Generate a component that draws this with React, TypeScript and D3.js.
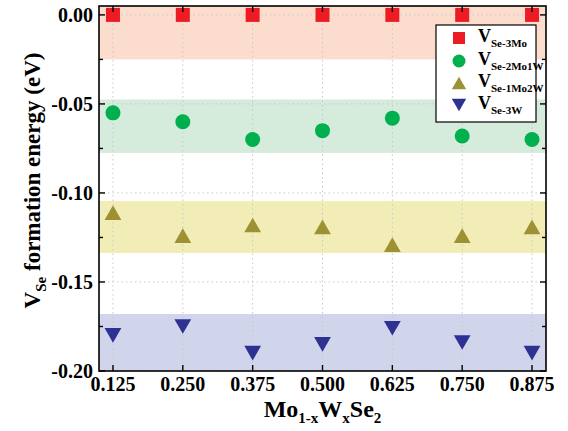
import React from "react";
import * as d3 from "d3";

const xValues = [0.125, 0.25, 0.375, 0.5, 0.625, 0.75, 0.875];
const xTickLabels = ["0.125", "0.250", "0.375", "0.500", "0.625", "0.750", "0.875"];
const yTicks = [0, -0.05, -0.1, -0.15, -0.2];
const yTickLabels = ["0.00", "-0.05", "-0.10", "-0.15", "-0.20"];
const yMinorTicks = [-0.025, -0.075, -0.125, -0.175];

const seriesNames = ["Se-3Mo", "Se-2Mo1W", "Se-1Mo2W", "Se-3W"];
const v3Mo = [0, 0, 0, 0, 0, 0, 0];
const v2Mo1W = [-0.055, -0.06, -0.07, -0.065, -0.058, -0.068, -0.07];
const v1Mo2W = [-0.111, -0.124, -0.118, -0.119, -0.129, -0.124, -0.119];
const v3W = [-0.18, -0.175, -0.19, -0.185, -0.176, -0.184, -0.19];

const bandTops = [0.005, -0.0475, -0.1045, -0.168];
const bandBottoms = [-0.025, -0.0775, -0.1337, -0.2];

const markerColors = ["#ED1C24", "#00B04F", "#9E9134", "#2E3192"];
const bandColors = ["#FBDCCD", "#D5EBDC", "#F2EDB7", "#D0D5EB"];

const W = 568;
const H = 431;
const margin = { left: 99, right: 22, top: 6, bottom: 60 };
const FONT = '"Liberation Serif", "Times New Roman", "Nimbus Roman", "DejaVu Serif", serif';

function Marker({ kind, cx, cy, size, color }: { kind: number; cx: number; cy: number; size: number; color: string }) {
  if (kind === 0) {
    return <rect x={cx - size / 2} y={cy - size / 2} width={size} height={size} fill={color} />;
  }
  if (kind === 1) {
    return <circle cx={cx} cy={cy} r={size / 2 + 0.5} fill={color} />;
  }
  const w = size * 1.2;
  const h = size * 1.05;
  if (kind === 2) {
    const p = `M${cx - w / 2},${cy + h / 2}L${cx + w / 2},${cy + h / 2}L${cx},${cy - h / 2}Z`;
    return <path d={p} fill={color} />;
  }
  const p = `M${cx - w / 2},${cy - h / 2}L${cx + w / 2},${cy - h / 2}L${cx},${cy + h / 2}Z`;
  return <path d={p} fill={color} />;
}

export default function App() {
  const x = d3.scaleLinear().domain([0.1, 0.9]).range([margin.left, W - margin.right]);
  const y = d3.scaleLinear().domain([-0.2, 0.005]).range([371, margin.top]);
  const x0 = x.range()[0];
  const x1 = x.range()[1];
  const y0 = y.range()[0];
  const y1 = y.range()[1];
  const all = [v3Mo, v2Mo1W, v1Mo2W, v3W];
  const ts = { fontFamily: FONT, fontWeight: 700 } as React.CSSProperties;

  const legX = 436;
  const legY = 25;
  const legW = 100;
  const legH = 97;
  const rowYs = [38, 61, 83, 105];

  return (
    <svg width={W} height={H} style={{ position: "absolute", left: 0, top: 0, background: "#fff" }}>
      {bandTops.map((t, i) => (
        <rect key={"b" + i} x={x0} y={y(t)} width={x1 - x0} height={y(bandBottoms[i]) - y(t)} fill={bandColors[i]} />
      ))}
      {xValues.map((v, i) => (
        <line key={"gx" + i} x1={x(v)} x2={x(v)} y1={y1} y2={y0} stroke="#c8c8c8" strokeWidth={1} strokeDasharray="1.5,3" />
      ))}
      {yTicks.map((v, i) => (
        <line key={"gy" + i} x1={x0} x2={x1} y1={y(v)} y2={y(v)} stroke="#c8c8c8" strokeWidth={1} strokeDasharray="1.5,3" />
      ))}
      {all.map((vals, si) =>
        vals.map((v, i) => (
          <Marker key={`m${si}-${i}`} kind={si} cx={x(xValues[i])} cy={y(v)} size={14} color={markerColors[si]} />
        ))
      )}
      <rect x={x0} y={y1} width={x1 - x0} height={y0 - y1} fill="none" stroke="#000" strokeWidth={1.6} />
      {xValues.map((v, i) => (
        <g key={"tx" + i}>
          <line x1={x(v)} x2={x(v)} y1={y0} y2={y0 - 6} stroke="#000" strokeWidth={1.4} />
          <line x1={x(v)} x2={x(v)} y1={y1} y2={y1 + 6} stroke="#000" strokeWidth={1.4} />
          <text x={x(v)} y={y0 + 20} textAnchor="middle" fontSize={20} style={ts}>
            {xTickLabels[i]}
          </text>
        </g>
      ))}
      {yTicks.map((v, i) => (
        <g key={"ty" + i}>
          <line x1={x0} x2={x0 + 6} y1={y(v)} y2={y(v)} stroke="#000" strokeWidth={1.4} />
          <line x1={x1} x2={x1 - 6} y1={y(v)} y2={y(v)} stroke="#000" strokeWidth={1.4} />
          <text x={x0 - 6} y={y(v) + 7} textAnchor="end" fontSize={20} style={ts}>
            {yTickLabels[i]}
          </text>
        </g>
      ))}
      {yMinorTicks.map((v, i) => (
        <g key={"tm" + i}>
          <line x1={x0} x2={x0 + 4} y1={y(v)} y2={y(v)} stroke="#000" strokeWidth={1.4} />
          <line x1={x1} x2={x1 - 4} y1={y(v)} y2={y(v)} stroke="#000" strokeWidth={1.4} />
        </g>
      ))}
      <rect x={legX} y={legY} width={legW} height={legH} fill="#fff" stroke="#000" strokeWidth={1.2} />
      {seriesNames.map((n, i) => (
        <g key={"l" + i}>
          <Marker kind={i} cx={459} cy={rowYs[i]} size={12} color={markerColors[i]} />
          <text x={478} y={rowYs[i] + 4} fontSize={18} style={ts}>
            V
            <tspan fontSize={11} dy={5}>
              {n}
            </tspan>
          </text>
        </g>
      ))}
      <text x={(x0 + x1) / 2} y={417} textAnchor="middle" fontSize={24} style={ts}>
        Mo
        <tspan fontSize={15} dy={6}>1-x</tspan>
        <tspan dy={-6}>W</tspan>
        <tspan fontSize={15} dy={6}>x</tspan>
        <tspan dy={-6}>Se</tspan>
        <tspan fontSize={15} dy={6}>2</tspan>
      </text>
      <text transform={`translate(40,${(y0 + y1) / 2 - 8}) rotate(-90)`} textAnchor="middle" fontSize={23} style={ts}>
        V
        <tspan fontSize={15} dy={6}>Se</tspan>
        <tspan dy={-6}> formation energy (eV)</tspan>
      </text>
    </svg>
  );
}
